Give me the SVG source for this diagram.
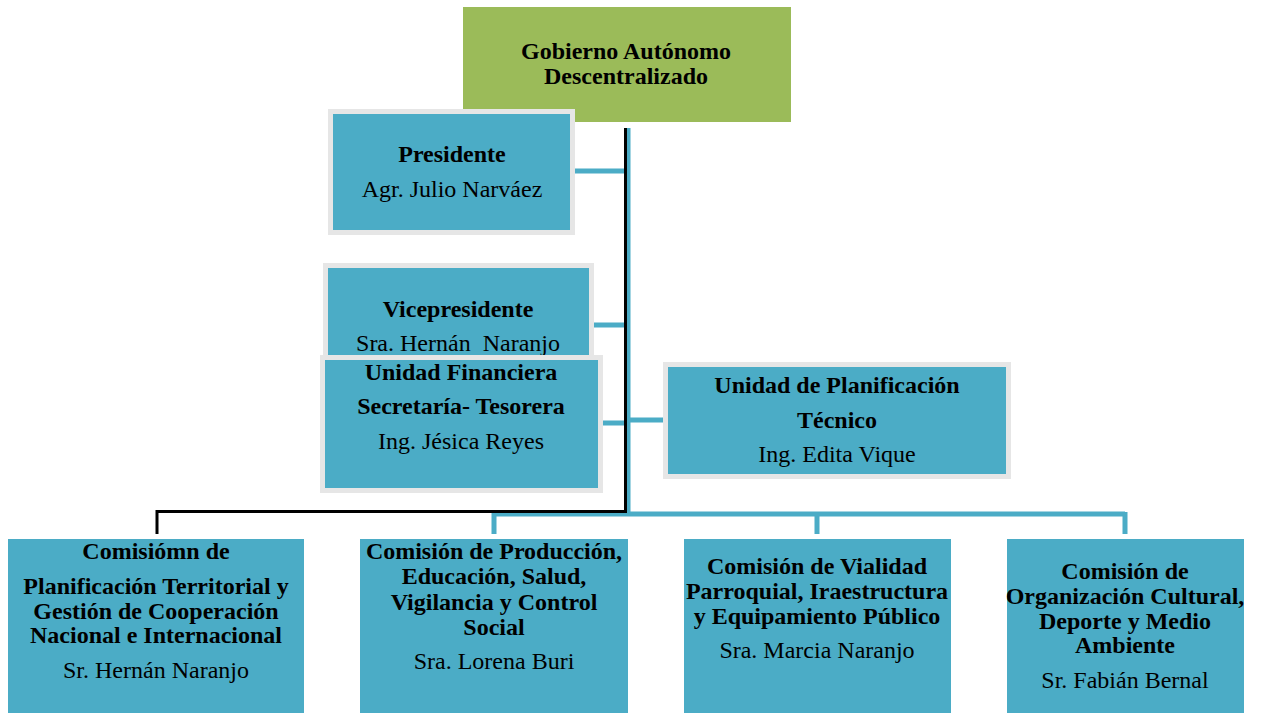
<svg xmlns="http://www.w3.org/2000/svg" width="1261" height="713" viewBox="0 0 1261 713">
<style>
.bg{fill:#ffffff}
.frame{fill:#E6E6E6}
.box{fill:#4BACC6}
.green{fill:#9BBB59}
text{font-family:"Liberation Serif","Times New Roman",serif;font-size:24px;fill:#000;text-anchor:middle}
.b{font-weight:bold}
.blue{stroke:#4BACC6;stroke-width:5;fill:none}
.black{stroke:#000;stroke-width:3;fill:none}
</style>
<rect class="bg" x="0" y="0" width="1261" height="713"/>
<g id="connectors">
<path class="blue" d="M628,128 V514 M494,514 H1125 M494,512 V534 M817,512 V534 M1125,512 V534"/>
<path class="blue" d="M572,171 H626 M592,325 H626 M601,423 H626 M628,420 H664"/>
<path class="black" d="M625.5,128 V511.5 H157 V534"/>
</g>
<g id="gad">
<rect class="green" x="463" y="7" width="328" height="115"/>
<text class="b" x="626" y="59">Gobierno Autónomo</text>
<text class="b" x="626" y="84">Descentralizado</text>
</g>
<g id="presidente">
<rect class="frame" x="328" y="109" width="247" height="126"/>
<rect class="box" x="333" y="114" width="237" height="116"/>
<text class="b" x="452" y="162">Presidente</text>
<text x="452" y="197">Agr. Julio Narváez</text>
</g>
<g id="vicepresidente">
<rect class="frame" x="323" y="263" width="271" height="100"/>
<rect class="box" x="328" y="268" width="261" height="95"/>
<text class="b" x="458" y="317">Vicepresidente</text>
<text x="458" y="351" xml:space="preserve">Sra. Hernán  Naranjo</text>
</g>
<g id="unidad-financiera">
<rect class="frame" x="320" y="355" width="283" height="138"/>
<rect class="box" x="325" y="360" width="273" height="128"/>
<text class="b" x="461" y="380">Unidad Financiera</text>
<text class="b" x="461" y="414">Secretaría- Tesorera</text>
<text x="461" y="449">Ing. Jésica Reyes</text>
</g>
<g id="unidad-planificacion">
<rect class="frame" x="663" y="362" width="348" height="117"/>
<rect class="box" x="668" y="367" width="338" height="107"/>
<text class="b" x="837" y="393">Unidad de Planificación</text>
<text class="b" x="837" y="428">Técnico</text>
<text x="837" y="462">Ing. Edita Vique</text>
</g>
<g id="comision-planificacion">
<rect class="box" x="8" y="539" width="296" height="174"/>
<text class="b" x="156" y="559">Comisiómn de</text>
<text class="b" x="156" y="594">Planificación Territorial y</text>
<text class="b" x="156" y="619">Gestión de Cooperación</text>
<text class="b" x="156" y="643">Nacional e Internacional</text>
<text x="156" y="678">Sr. Hernán Naranjo</text>
</g>
<g id="comision-produccion">
<rect class="box" x="360" y="539" width="268" height="174"/>
<text class="b" x="494" y="559">Comisión de Producción,</text>
<text class="b" x="494" y="584">Educación, Salud,</text>
<text class="b" x="494" y="610">Vigilancia y Control</text>
<text class="b" x="494" y="635">Social</text>
<text x="494" y="669">Sra. Lorena Buri</text>
</g>
<g id="comision-vialidad">
<rect class="box" x="684" y="539" width="267" height="174"/>
<text class="b" x="817" y="574">Comisión de Vialidad</text>
<text class="b" x="817" y="599">Parroquial, Iraestructura</text>
<text class="b" x="817" y="624">y Equipamiento Público</text>
<text x="817" y="658">Sra. Marcia Naranjo</text>
</g>
<g id="comision-cultural">
<rect class="box" x="1007" y="539" width="237" height="174"/>
<text class="b" x="1125" y="579">Comisión de</text>
<text class="b" x="1125" y="604">Organización Cultural,</text>
<text class="b" x="1125" y="629">Deporte y Medio</text>
<text class="b" x="1125" y="653">Ambiente</text>
<text x="1125" y="688">Sr. Fabián Bernal</text>
</g>
</svg>
